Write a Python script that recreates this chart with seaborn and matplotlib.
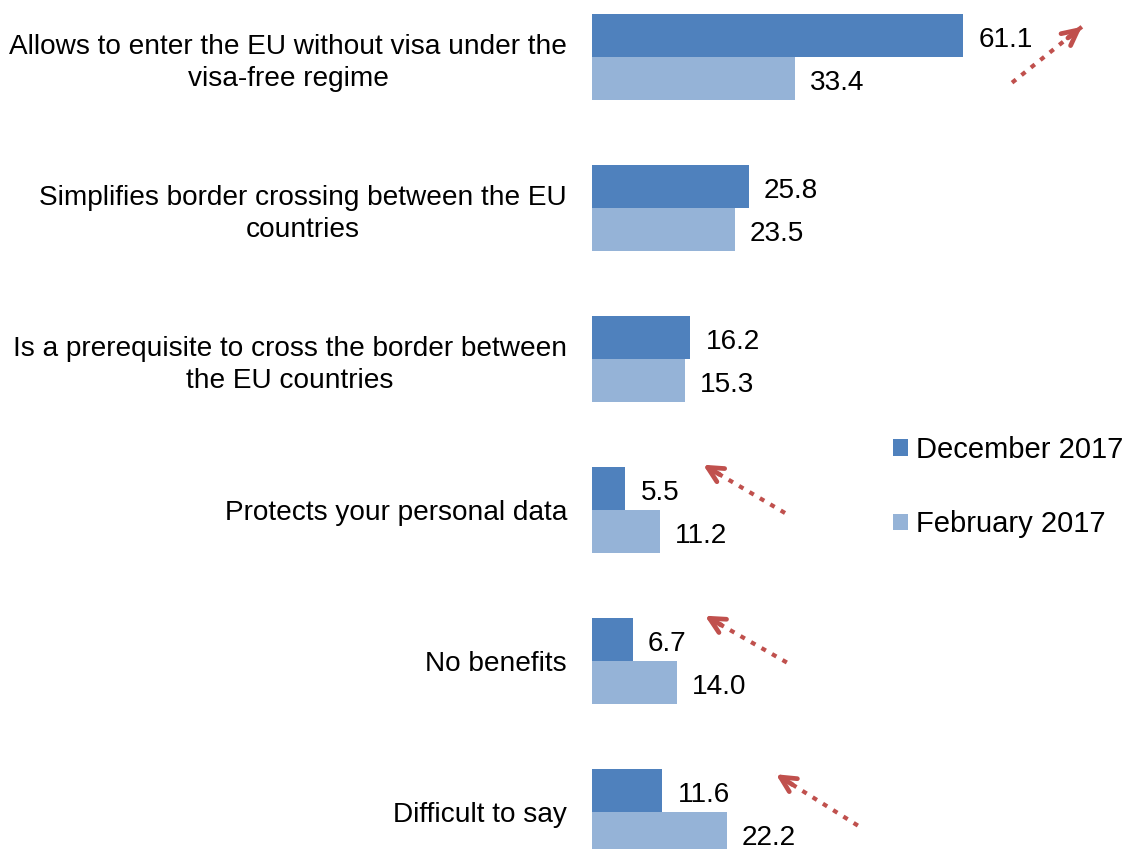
import matplotlib
matplotlib.use("Agg")
import matplotlib.pyplot as plt
import seaborn as sns
import pandas as pd

categories = [
    "Allows to enter the EU without visa under the\nvisa-free regime",
    "Simplifies border crossing between the EU\ncountries",
    "Is a prerequisite to cross the border between\nthe EU countries",
    "Protects your personal data",
    "No benefits",
    "Difficult to say",
]
series_names = ["December 2017", "February 2017"]
dec_2017 = [61.1, 25.8, 16.2, 5.5, 6.7, 11.6]
feb_2017 = [33.4, 23.5, 15.3, 11.2, 14.0, 22.2]
colors = ["#4F81BD", "#95B3D7"]

# arrows: (tail_x, tail_y, head_x, head_y) in data units
arrows = [
    (69.2, 0.17, 80.7, -0.20),
    (31.8, 3.02, 18.3, 2.70),
    (32.1, 4.01, 18.6, 3.70),
    (43.8, 5.09, 30.3, 4.75),
]

df = pd.DataFrame({
    "category": categories * 2,
    "series": [series_names[0]] * len(categories) + [series_names[1]] * len(categories),
    "value": dec_2017 + feb_2017,
})

sns.set_style("white")
plt.rcParams["font.family"] = ["Liberation Sans", "DejaVu Sans"]

W, H = 1133, 849
fig = plt.figure(figsize=(W / 100, H / 100), dpi=100)
ax = fig.add_axes([592 / W, 0, (W - 592) / W, 1])

sns.barplot(data=df, y="category", x="value", hue="series", orient="h",
            palette=colors, width=0.57, ax=ax, saturation=1, legend=True,
            edgecolor="none", linewidth=0)

fs = 20.2
for cont in ax.containers:
    for p in cont:
        w = p.get_width()
        ax.annotate(f"{w:.1f}", xy=(w, p.get_y() + p.get_height() / 2),
                    xytext=(11, -3), textcoords="offset points",
                    ha="left", va="center", fontsize=fs, color="black")

ax.set_xlim(0, (W - 592) / 6.07)
ax.set_ylim((H - 57) / 151, -57 / 151)
ax.set_xlabel("")
ax.set_ylabel("")
ax.set_xticks([])
ax.set_yticks(range(len(categories)))
ax.set_yticklabels(categories, fontsize=fs, multialignment="center",
                   linespacing=1.3, color="black")
ax.tick_params(axis="y", length=0, pad=18)
for s in ax.spines.values():
    s.set_visible(False)

red = "#C0504D"
for tx, ty, hx, hy in arrows:
    ax.plot([tx, hx], [ty, hy], color=red, lw=3.0, linestyle=(0, (1.2, 1.7)),
            dash_capstyle="butt", solid_capstyle="butt")
    ax.annotate("", xy=(hx, hy), xytext=(hx + (tx - hx) * 0.2, hy + (ty - hy) * 0.2),
                arrowprops=dict(arrowstyle="->,head_length=1.1,head_width=0.55",
                                color=red, lw=3.4, shrinkA=0, shrinkB=0))

handles, labels = ax.get_legend_handles_labels()
leg = ax.legend(handles, labels, loc="center left", bbox_to_anchor=(893 / W, 1 - 487 / H),
                bbox_transform=fig.transFigure, frameon=False, fontsize=21,
                handlelength=0.5, handleheight=0.5, handletextpad=0.28,
                labelspacing=1.6, borderpad=0, borderaxespad=0)
for t in leg.get_texts():
    t.set_color("black")

fig.savefig("out.png", dpi=100)
